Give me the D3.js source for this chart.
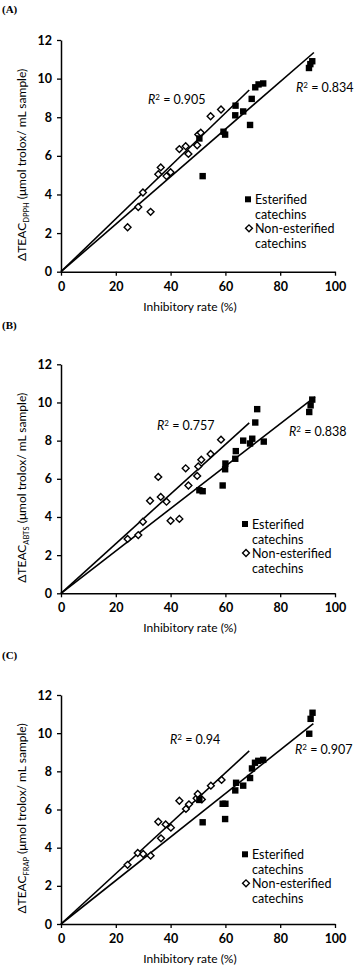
<!DOCTYPE html>
<html>
<head>
<meta charset="utf-8">
<script src="https://cdn.jsdelivr.net/npm/d3@7/dist/d3.min.js"></script>
<style>
  html, body { margin: 0; padding: 0; background: #fff; }
  svg { display: block; }
  text { font-family: Lato, "Open Sans", sans-serif; fill: #000; }
</style>
</head>
<body>
<svg id="chart" width="357" height="968"></svg>
<script>
// ---------- data ----------
const panelLabels = ["(A)", "(B)", "(C)"];
const assaySubs = ["DPPH", "ABTS", "FRAP"];
const xTicks = [0, 20, 40, 60, 80, 100];
const yTicks = [0, 2, 4, 6, 8, 10, 12];
const seriesNames = ["Esterified", "catechins", "Non-esterified", "catechins"];

// Panel A (DPPH)
const esterX_A = [50.5, 51.7, 59.3, 59.9, 63.6, 63.7, 66.5, 69.0, 69.6, 70.9, 72.1, 73.8, 90.5, 91.0, 91.7];
const esterY_A = [6.9, 4.95, 7.25, 7.1, 8.1, 8.6, 8.3, 7.6, 8.95, 9.55, 9.7, 9.75, 10.55, 10.75, 10.9];
const nonX_A = [24.3, 28.2, 29.9, 32.7, 35.5, 36.4, 38.5, 40.0, 43.2, 45.5, 46.5, 49.7, 50.1, 51.0, 54.6, 58.4];
const nonY_A = [2.3, 3.35, 4.1, 3.1, 5.05, 5.4, 4.95, 5.15, 6.35, 6.5, 6.1, 6.55, 7.1, 7.2, 8.05, 8.4];

// Panel B (ABTS)
const esterX_B = [50.5, 51.7, 59.0, 59.9, 60.0, 63.6, 63.8, 66.5, 69.0, 69.8, 70.9, 71.6, 74.0, 90.6, 91.1, 91.7];
const esterY_B = [5.4, 5.35, 5.65, 6.5, 6.8, 7.05, 7.45, 8.0, 7.85, 8.1, 8.95, 9.65, 7.95, 9.5, 9.85, 10.15];
const nonX_B = [24.3, 28.2, 29.9, 32.5, 35.5, 36.4, 38.5, 40.0, 43.2, 45.5, 46.5, 49.7, 50.1, 51.2, 54.6, 58.4];
const nonY_B = [2.85, 3.05, 3.75, 4.85, 6.1, 5.05, 4.8, 3.8, 3.9, 6.55, 5.65, 6.15, 6.65, 7.0, 7.3, 8.05];

// Panel C (FRAP)
const esterX_C = [50.5, 51.7, 59.0, 60.0, 59.9, 63.6, 63.9, 66.5, 69.0, 69.7, 70.8, 72.0, 73.8, 90.6, 91.1, 91.8];
const esterY_C = [6.5, 5.33, 6.3, 6.3, 5.5, 7.0, 7.4, 7.25, 7.65, 8.15, 8.45, 8.55, 8.6, 9.97, 10.75, 11.07];
const nonX_C = [24.3, 28.0, 30.0, 32.7, 35.5, 36.5, 38.2, 40.1, 43.2, 45.6, 46.7, 49.5, 49.9, 51.4, 54.7, 58.6];
const nonY_C = [3.1, 3.72, 3.67, 3.58, 5.36, 4.49, 5.22, 5.05, 6.46, 6.03, 6.27, 6.59, 6.81, 6.53, 7.25, 7.55];

// Trendlines through origin (slope, end x)
const esterSlope = [0.123, 0.111, 0.114];
const esterLineEnd = [92.3, 92.7, 92.1];
const nonSlope = [0.137, 0.130, 0.132];
const nonLineEnd = [68.7, 68.7, 68.7];
const r2Ester = ["0.834", "0.838", "0.907"];
const r2Non = ["0.905", "0.757", "0.94"];

const esterX = [esterX_A, esterX_B, esterX_C];
const esterY = [esterY_A, esterY_B, esterY_C];
const nonX = [nonX_A, nonX_B, nonX_C];
const nonY = [nonY_A, nonY_B, nonY_C];

// ---------- layout ----------
const plotLeft = 61, plotRight = 335;
const plotTops = [40, 364.3, 695];
const plotBottoms = [271.7, 593.3, 924];
const labelY = [13, 329, 659];
const r2NonPos = [[148, 104], [157, 430], [170, 744]];
const r2EsterPos = [[296, 92], [289, 436], [295, 754]];
const legendTop = [199.3, 524, 854.3];
const legendX = [[248, 255], [245, 252], [245, 252]];

const svg = d3.select("#chart");

function r2Label(g, x, y, val) {
  const t = g.append("text").attr("x", x).attr("y", y).attr("font-size", 12.5);
  t.append("tspan").attr("font-style", "italic").text("R");
  t.append("tspan").attr("font-size", 8).attr("dy", -4.5).text("2");
  t.append("tspan").attr("dy", 4.5).text(" = " + val);
}

for (let p = 0; p < 3; p++) {
  const g = svg.append("g");
  const x = d3.scaleLinear().domain([0, 100]).range([plotLeft, plotRight]);
  const y = d3.scaleLinear().domain([0, 12]).range([plotBottoms[p], plotTops[p]]);

  // panel label
  g.append("text").attr("x", 2).attr("y", labelY[p])
    .style("font-family", "'Liberation Serif', serif")
    .attr("font-weight", "bold").attr("font-size", 11).text(panelLabels[p]);

  // axes
  const xAxis = d3.axisBottom(x).tickValues(xTicks).tickSize(4).tickSizeOuter(0).tickPadding(6);
  const yAxis = d3.axisLeft(y).tickValues(yTicks).tickSize(4).tickSizeOuter(0).tickPadding(5);
  const gx = g.append("g").attr("transform", `translate(0,${plotBottoms[p]})`).call(xAxis);
  const gy = g.append("g").attr("transform", `translate(${plotLeft},0)`).call(yAxis);
  [gx, gy].forEach(a => {
    a.select(".domain").attr("stroke", "#000").attr("stroke-width", 1.5);
    a.selectAll(".tick line").attr("stroke", "#000").attr("stroke-width", 1.3);
    a.selectAll(".tick text").attr("font-family", "Lato, sans-serif")
      .attr("font-weight", "bold").attr("font-size", 12.5).attr("fill", "#000");
  });

  // axis titles
  g.append("text").attr("x", 190).attr("y", plotBottoms[p] + 39)
    .attr("text-anchor", "middle").attr("font-size", 12).text("Inhibitory rate (%)");
  const yc = (plotTops[p] + plotBottoms[p]) / 2 + 9;
  const yt = g.append("text").attr("transform", `translate(26,${yc}) rotate(-90)`)
    .attr("text-anchor", "middle").attr("font-size", 12);
  yt.append("tspan").text("ΔTEAC");
  yt.append("tspan").attr("font-size", 7.5).attr("dy", 2.5).text(assaySubs[p]);
  yt.append("tspan").attr("dy", -2.5).text(" (μmol trolox/ mL sample)");

  // trendlines
  const line = d3.line().x(d => x(d[0])).y(d => y(d[1]));
  g.append("path").attr("d", line([[0, 0], [esterLineEnd[p], esterSlope[p] * esterLineEnd[p]]]))
    .attr("stroke", "#000").attr("stroke-width", 1.6).attr("fill", "none");
  g.append("path").attr("d", line([[0, 0], [nonLineEnd[p], nonSlope[p] * nonLineEnd[p]]]))
    .attr("stroke", "#000").attr("stroke-width", 1.6).attr("fill", "none");

  // points
  const ed = esterX[p].map((v, i) => [v, esterY[p][i]]);
  const nd = nonX[p].map((v, i) => [v, nonY[p][i]]);
  const dsym = d3.symbol().type(d3.symbolDiamond2).size(30);
  g.selectAll(".non").data(nd).join("path").attr("class", "non")
    .attr("d", dsym).attr("transform", d => `translate(${x(d[0])},${y(d[1])})`)
    .attr("fill", "#fff").attr("stroke", "#000").attr("stroke-width", 1.4);
  g.selectAll(".est").data(ed).join("rect").attr("class", "est")
    .attr("x", d => x(d[0]) - 3.2).attr("y", d => y(d[1]) - 3.2)
    .attr("width", 6.4).attr("height", 6.4).attr("fill", "#000");

  // R² labels
  r2Label(g, r2NonPos[p][0], r2NonPos[p][1], r2Non[p]);
  r2Label(g, r2EsterPos[p][0], r2EsterPos[p][1], r2Ester[p]);

  // legend
  const lt = legendTop[p];
  const [mx, tx] = legendX[p];
  g.append("rect").attr("x", mx - 3).attr("y", lt - 3).attr("width", 6).attr("height", 6).attr("fill", "#000");
  g.append("text").attr("x", tx).attr("y", lt + 4.5).attr("font-size", 12.5).text(seriesNames[0]);
  g.append("text").attr("x", tx).attr("y", lt + 19.5).attr("font-size", 12.5).text(seriesNames[1]);
  g.append("path").attr("d", dsym).attr("transform", `translate(${mx + 1},${lt + 29})`)
    .attr("fill", "#fff").attr("stroke", "#000").attr("stroke-width", 1.4);
  g.append("text").attr("x", tx).attr("y", lt + 33.5).attr("font-size", 12.5).text(seriesNames[2]);
  g.append("text").attr("x", tx).attr("y", lt + 48.5).attr("font-size", 12.5).text(seriesNames[3]);
}
</script>
</body>
</html>
